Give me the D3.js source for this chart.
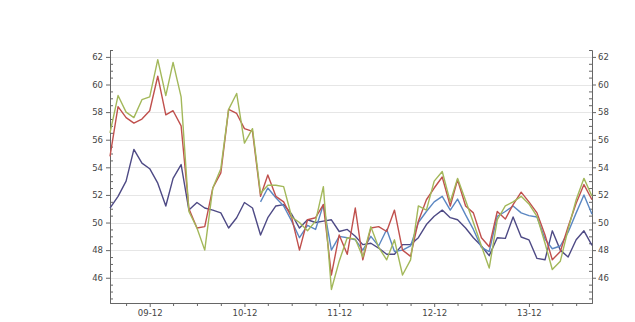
<!DOCTYPE html>
<html>
<head>
<meta charset="utf-8">
<script src="https://cdn.jsdelivr.net/npm/d3@7"></script>
<style>
  body { margin: 0; background: #fff; }
  svg { display: block; }
  .tick text { font-family: "DejaVu Sans", sans-serif; font-size: 8.5px; fill: #444; }
</style>
</head>
<body>
<div id="chart"></div>
<script>
// monthly series, Jul 2009 .. Aug 2014
const startMonth = new Date(2009, 6, 1);
const endMonth = new Date(2014, 7, 1);

const redValues = [54.8, 58.4, 57.6, 57.2, 57.5, 58.1, 60.6, 57.8, 58.1, 57.0,
  51.0, 49.6, 49.7, 52.5, 53.6, 58.2, 57.9, 56.8, 56.6, 51.9,
  53.45, 51.9, 51.5, 50.35, 48.0, 50.2, 50.35, 51.3, 46.2, 49.1,
  47.7, 51.05, 47.3, 49.6, 49.7, 49.35, 50.9, 48.0, 47.55, 50.1,
  51.65, 52.5, 53.3, 51.2, 53.1, 51.2, 50.7, 48.9, 48.25, 50.8,
  50.25, 51.3, 52.2, 51.5, 50.7, 49.1, 47.3, 47.9, 49.7, 51.4,
  52.75, 51.65];

const greenValues = [56.5, 59.2, 58.0, 57.6, 58.9, 59.1, 61.8, 59.2, 61.6, 59.1,
  50.8, 49.6, 48.0, 52.5, 53.9, 58.2, 59.35, 55.75, 56.8, 52.1,
  52.7, 52.7, 52.6, 50.4, 50.0, 49.4, 50.1, 52.6, 45.15, 47.2,
  48.9, 48.8, 47.5, 49.7, 48.2, 47.3, 48.75, 46.2, 47.3, 51.2,
  50.9, 53.0, 53.7, 51.5, 53.2, 51.6, 50.0, 48.3, 46.7, 50.2,
  51.2, 51.5, 51.9, 51.35, 50.45, 48.5, 46.6, 47.2, 49.5, 51.65,
  53.2, 51.9];

// steel blue series starts in Feb 2011 (null before)
const blueValues = [null, null, null, null, null, null, null, null, null, null,
  null, null, null, null, null, null, null, null, null, 51.5,
  52.5, 51.8, 51.2, 50.1, 48.9, 49.8, 49.5, 51.3, 48.0, 49.0,
  48.9, 48.75, 48.0, 49.0, 48.3, 49.5, 47.9, 48.0, 48.3, 50.0,
  50.8, 51.5, 51.9, 50.9, 51.7, 50.55, 49.5, 48.2, 47.9, 50.45,
  50.8, 51.2, 50.7, 50.5, 50.4, 48.8, 48.1, 48.3, 49.3, 50.7,
  52.0, 50.6];

const navyValues = [51.05, 51.9, 53.0, 55.3, 54.3, 53.9, 52.85, 51.2, 53.2, 54.2,
  50.9, 51.45, 51.05, 50.9, 50.7, 49.6, 50.35, 51.45, 51.05, 49.1,
  50.35, 51.2, 51.3, 50.6, 49.6, 50.2, 50.0, 50.1, 50.2, 49.35,
  49.5, 49.0, 48.4, 48.5, 48.15, 47.7, 47.7, 48.4, 48.4, 48.9,
  49.85, 50.45, 50.9, 50.35, 50.2, 49.6, 48.9, 48.3, 47.6, 48.9,
  48.85, 50.4, 48.95, 48.75, 47.4, 47.3, 49.4, 48.0, 47.5, 48.75,
  49.4, 48.35];

const yTickValues = [46, 48, 50, 52, 54, 56, 58, 60, 62];

const series = [
  { name: 'navy', values: navyValues, color: '#4e4a85' },
  { name: 'blue', values: blueValues, color: '#5b87c2' },
  { name: 'red', values: redValues, color: '#c0504d' },
  { name: 'green', values: greenValues, color: '#a3b85a' }
];

const width = 635, height = 322;
const margin = { top: 50, right: 43, bottom: 19, left: 110 };
const innerW = width - margin.left - margin.right;
const innerH = height - margin.top - margin.bottom;

const months = d3.timeMonth.range(startMonth, d3.timeMonth.offset(endMonth, 1));

const svg = d3.select('#chart').append('svg')
  .attr('width', width)
  .attr('height', height);

const g = svg.append('g')
  .attr('transform', 'translate(' + margin.left + ',' + margin.top + ')');

const x = d3.scaleTime().domain([startMonth, endMonth]).range([0, innerW]);
const y = d3.scaleLinear().domain([44.17, 62.5]).range([innerH, 0]);

// horizontal grid
g.append('g')
  .selectAll('line')
  .data(yTickValues)
  .join('line')
  .attr('x1', 0)
  .attr('x2', innerW)
  .attr('y1', d => Math.round(y(d)) + 0.5)
  .attr('y2', d => Math.round(y(d)) + 0.5)
  .attr('stroke', '#e6e6e6')
  .attr('stroke-width', 1);

const minorY = d3.range(44.5, 62.51, 0.5).filter(v => v % 2 !== 0);

// left axis
const leftAxis = g.append('g')
  .call(d3.axisLeft(y).tickValues(yTickValues).tickSize(4).tickPadding(3).tickSizeOuter(0));
g.append('g')
  .call(d3.axisRight(y).tickValues(minorY).tickSize(3).tickFormat('').tickSizeOuter(0));

// right axis
const rightAxis = g.append('g')
  .attr('transform', 'translate(' + innerW + ',0)')
  .call(d3.axisRight(y).tickValues(yTickValues).tickSize(4).tickPadding(2).tickSizeOuter(0));
g.append('g')
  .attr('transform', 'translate(' + innerW + ',0)')
  .call(d3.axisLeft(y).tickValues(minorY).tickSize(3).tickFormat('').tickSizeOuter(0));

// bottom axis: labels every December, minor ticks quarterly
const decembers = months.filter(d => d.getMonth() === 11);
const quarters = months.filter(d => d.getMonth() % 3 === 2 && d.getMonth() !== 11);
g.append('g')
  .attr('transform', 'translate(0,' + innerH + ')')
  .call(d3.axisBottom(x).tickValues(decembers).tickFormat(d3.timeFormat('%y-%m'))
    .tickSize(4).tickPadding(3).tickSizeOuter(0));
g.append('g')
  .attr('transform', 'translate(0,' + innerH + ')')
  .call(d3.axisBottom(x).tickValues(quarters).tickFormat('').tickSize(3).tickSizeOuter(0));

g.selectAll('.domain').attr('stroke', '#666');
g.selectAll('.tick line').attr('stroke', '#666');

const line = d3.line()
  .defined(d => d.v !== null)
  .x(d => x(d.date))
  .y(d => y(d.v));

series.forEach(s => {
  const pts = months.map((m, i) => ({ date: m, v: s.values[i] }));
  g.append('path')
    .datum(pts)
    .attr('fill', 'none')
    .attr('stroke', s.color)
    .attr('stroke-width', 1.4)
    .attr('stroke-linejoin', 'round')
    .attr('d', line);
});
</script>
</body>
</html>
